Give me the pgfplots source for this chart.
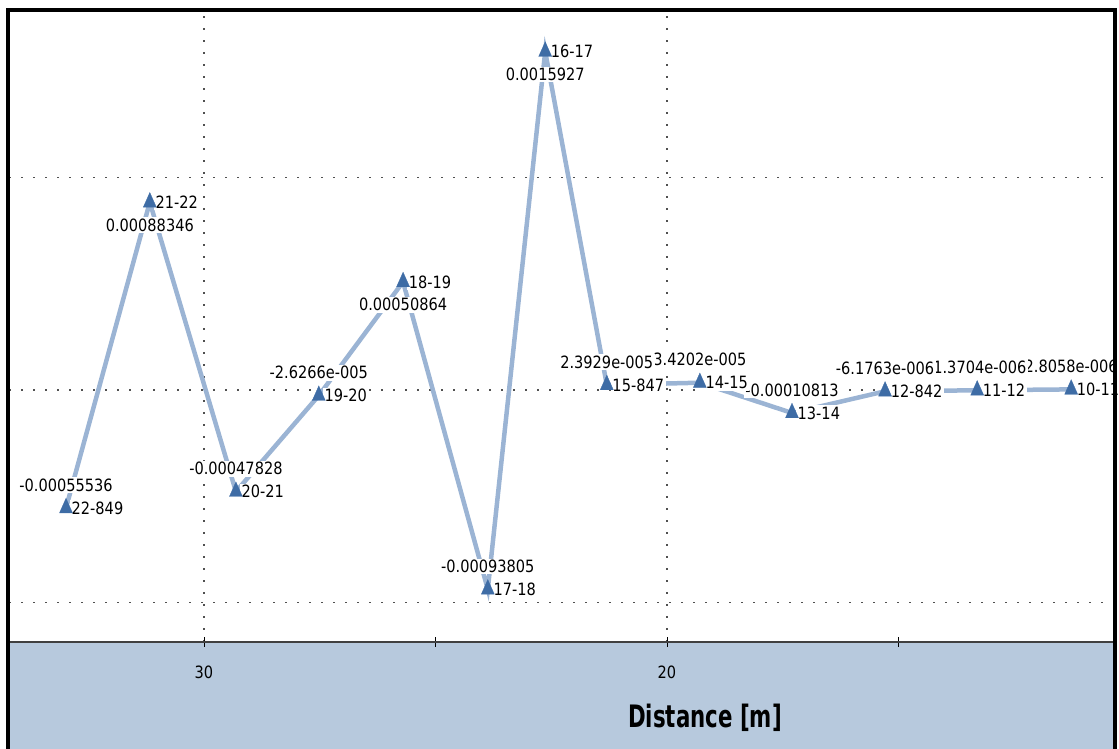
\documentclass[border=0pt]{standalone}
\usepackage{fontspec}
\setmainfont{DejaVu Sans}[FakeStretch=0.86]
\newfontfamily\labelfont{DejaVu Sans}[FakeStretch=0.69]
\usepackage{pgfplots}
\usepackage{pgfplotstable}
\pgfplotsset{compat=1.18}
\definecolor{lineblue}{RGB}{155,180,212}
\definecolor{markblue}{RGB}{62,108,165}
\definecolor{panelblue}{RGB}{183,201,221}
\definecolor{gridgray}{RGB}{80,80,80}

\pgfplotstableread{
x y name val dy
11.27 0.0000028058 10-11 2.8058e-006 23
13.30 -0.0000013704 11-12 -1.3704e-006 23
15.29 -0.0000061763 12-842 -6.1763e-006 23
17.30 -0.00010813 13-14 -0.00010813 23
19.29 0.000034202 14-15 3.4202e-005 23
21.30 0.000023929 15-847 2.3929e-005 23
22.63 0.0015927 16-17 0.0015927 -23
23.87 -0.00093805 17-18 -0.00093805 23
25.70 0.00050864 18-19 0.00050864 -23
27.52 -0.000026266 19-20 -2.6266e-005 23
29.31 -0.00047828 20-21 -0.00047828 23
31.17 0.00088346 21-22 0.00088346 -23
32.98 -0.00055536 22-849 -0.00055536 23
}\data

\begin{document}
\begin{tikzpicture}[x=1bp,y=1bp]
\path[use as bounding box] (0,0) rectangle (1119,749);
\fill[panelblue] (8,0) rectangle (1115,107);
\begin{axis}[
  name=ax, at={(8bp,107bp)}, anchor=south west,
  scale only axis, width=1107bp, height=632bp,
  x dir=reverse, xmin=10.324, xmax=34.233,
  ymin=-0.0011859, ymax=0.0017882,
  axis line style={draw=none},
  xtick={20,30}, minor xtick={15,25}, xtick pos=left,
  tick align=center, major tick length=10bp, minor tick length=10bp,
  tick style={black, line width=0.8bp},
  /pgf/number format/assume math mode=true,
  xticklabel style={font=\fontsize{17}{20}\selectfont, anchor=center, yshift=-25bp},
  ytick={-0.001,0,0.001}, yticklabels={}, ytick style={draw=none},
  scaled y ticks=false,
  xmajorgrids, ymajorgrids,
  grid style={gridgray, line width=1.6bp, dash pattern=on 1.6bp off 10.4bp},
  xlabel={Distance [m]},
  xlabel style={at={(axis description cs:0.6296,-0.1203)}, anchor=center, font=\labelfont\bfseries\fontsize{31}{35}\selectfont},
  nodes near coords style={font=\fontsize{17}{20}\selectfont, fill=white, inner sep=1.5bp},
]
\addplot[lineblue, line width=4.5bp, no markers] table[x=x,y=y]{\data};
\addplot[draw=none, no markers, nodes near coords, point meta=explicit symbolic,
  visualization depends on={\thisrow{dy}\as\dy},
  nodes near coords style={anchor=center, yshift=\dy pt}] table[x=x,y=y,meta=val]{\data};
\addplot[draw=none, no markers, nodes near coords, point meta=explicit symbolic,
  nodes near coords style={anchor=west, xshift=4bp}] table[x=x,y=y,meta=name]{\data};
\addplot[only marks, mark=triangle*, mark size=7.5bp,
  mark options={fill=markblue, draw=markblue, yscale=1.3, line width=0.3bp}] table[x=x,y=y]{\data};
\end{axis}
\draw[line width=2bp, black!75] (8,107) -- (1115,107);
\draw[line width=4bp, line join=miter] (8,0) -- (8,739) -- (1115,739) -- (1115,0);
\end{tikzpicture}
\end{document}
